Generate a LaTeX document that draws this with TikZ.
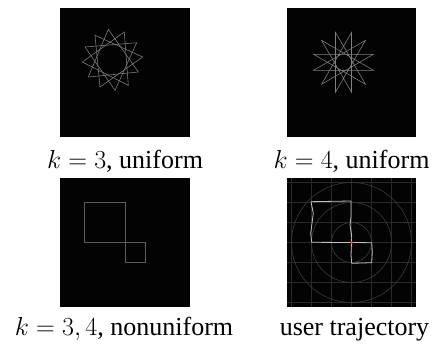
\RequirePackage{fix-cm}
\documentclass[tikz,border=0pt]{standalone}
\usepackage[no-math]{fontspec}
\setmainfont{Liberation Serif}
\definecolor{starline}{gray}{0.5}
\definecolor{sqline}{gray}{0.36}
\definecolor{gridline}{gray}{0.16}
\definecolor{ringline}{gray}{0.23}
\definecolor{trajline}{gray}{0.76}
\definecolor{dotred}{rgb}{1,0.3,0.3}
\begin{document}
\begin{tikzpicture}[x=1pt,y=-1pt,
  panel/.style={fill=black!99, draw=none},
  starpath/.style={draw=starline, line width=0.55pt},
  sqpath/.style={draw=sqline, line width=0.8pt},
  gridpath/.style={draw=gridline, line width=0.6pt},
  ringpath/.style={draw=ringline, line width=0.6pt},
  trajpath/.style={draw=trajline, line width=0.8pt, line join=round},
  caption/.style={anchor=base, inner sep=0pt, font=\fontsize{26}{30}\selectfont}]
\useasboundingbox (0,0) rectangle (432,345);
% panels
\fill[panel] (60,8) rectangle (190,137);
\fill[panel] (287,8) rectangle (416,137);
\fill[panel] (60,178) rectangle (190,307);
\fill[panel] (287,178) rectangle (416,307);
% panel 1: four triangles
\draw[starpath] (108.3,29.3) -- (138.3,72) -- (88.3,77) -- cycle;
\draw[starpath] (124.3,32) -- (128.3,85.3) -- (82.3,62) -- cycle;
\draw[starpath] (136.7,42.7) -- (115,90.3) -- (85,47) -- cycle;
\draw[starpath] (142.7,57) -- (100,87) -- (95,35.3) -- cycle;
% panel 2: {12/5} star
\begin{scope}[shift={(343.5,62.3)}]
\draw[starpath] (15:31) \foreach \i in {1,...,11} { -- ({15+150*\i}:31) } -- cycle;
\end{scope}
% panel 3: two squares
\draw[sqpath] (84.5,202.5) rectangle (125.5,242.5);
\draw[sqpath] (125.5,242.5) rectangle (145.5,262.5);
% panel 4: grid, rings, trajectory
\begin{scope}
\clip (287,178) rectangle (416,307);
\foreach \d in {-60,-40,...,60} {
  \draw[gridpath] (351.5+\d,178) -- (351.5+\d,307);
  \draw[gridpath] (287,242.5+\d) -- (416,242.5+\d);
}
\foreach \r in {20,40,60} { \draw[ringpath] (351.5,242.5) circle[radius=\r]; }
\end{scope}
\begin{scope}[shift={(351.5,242.5)}]
\draw[trajpath] (0,0) -- (-0.5,-12) -- (0.2,-5.8) -- (-1.5,-17.5) -- (-0.5,-25.8) -- (-0.5,-41.5)
  -- (-40.5,-40.8) -- (-38.2,-29.2) -- (-39.5,-19.2) -- (-40.8,-9.2) -- (-39.8,-0.2) -- (0,0)
  -- (20.2,0.2) -- (20.8,9.2) -- (20.2,20.2) -- (0.2,20.8) -- (-0.5,12.5) -- cycle;
\fill[dotred] (0,0) circle[radius=1.6];
\end{scope}
% captions
\node[caption] (c1) at (125,169) {$k=3$, uniform};
\node[caption] (c2) at (351.5,169) {$k=4$, uniform};
\node[caption] (c3) at (124,335) {$k=3,4$, nonuniform};
\node[caption] (c4) at (354.5,335) {user trajectory};
\end{tikzpicture}
\end{document}
